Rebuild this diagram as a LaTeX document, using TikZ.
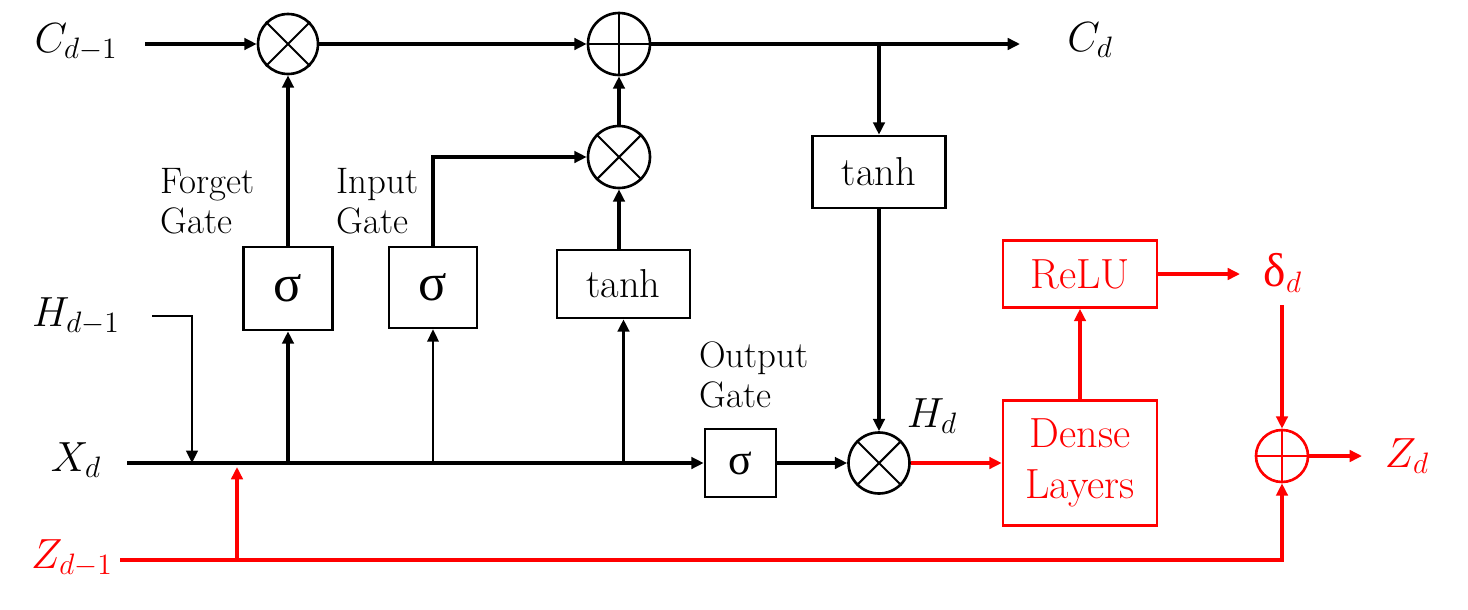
\RequirePackage{fix-cm}
\documentclass[tikz,border=0pt]{standalone}
\usepackage{fontspec}
\newfontfamily\grk{Liberation Serif}
\usetikzlibrary{arrows.meta}
\definecolor{rd}{RGB}{255,0,0}
\tikzset{
  arr/.style={line width=1.8pt,-{Triangle[length=7pt,width=6.5pt]}},
  rarr/.style={arr,draw=rd},
  ln/.style={line width=1.3pt},
  boxn/.style={draw,line width=1.5pt,inner sep=0pt,font=\fontsize{23}{27}\selectfont},
  rbox/.style={boxn,draw=rd,text=rd,font=\fontsize{24}{28}\selectfont},
  opc/.style={draw,circle,line width=1.5pt,inner sep=0pt},
  lbl/.style={font=\fontsize{24}{28}\selectfont,inner sep=0pt},
  gate/.style={font=\fontsize{21}{22.5}\selectfont,align=left,anchor=west,inner sep=0pt},
  sig/.style={font=\fontsize{30}{32}\selectfont\grk}
}
\begin{document}
\begin{tikzpicture}[x=0.02cm,y=-0.02cm]
\useasboundingbox (0,0) rectangle (1468,609);
% boxes
\node[boxn,minimum width=1.78cm,minimum height=1.66cm,sig] (s1) at (288,288.5) {σ};
\node[boxn,minimum width=1.76cm,minimum height=1.62cm,sig] (s2) at (433,287.5) {σ};
\node[boxn,minimum width=2.66cm,minimum height=1.36cm] (th2) at (623.5,284) {tanh};
\node[boxn,minimum width=2.66cm,minimum height=1.44cm] (th1) at (879,172) {tanh};
\node[boxn,minimum width=1.42cm,minimum height=1.36cm,font=\fontsize{25}{27}\selectfont\grk] (s3) at (740.5,463) {σ};
\node[rbox,minimum width=3.08cm,minimum height=1.34cm] (relu) at (1080,274) {ReLU};
\node[rbox,minimum width=3.08cm,minimum height=2.5cm,align=center] (dense) at (1080,463) {Dense\\[1pt]Layers};
% operators
\node[opc,minimum size=1.2cm] (m1) at (288,44) {};
\draw[line width=1.2pt] (m1.north west) -- (m1.south east) (m1.north east) -- (m1.south west);
\node[opc,minimum size=1.24cm] (a1) at (619,44) {};
\draw[line width=1.2pt] (a1.north) -- (a1.south) (a1.west) -- (a1.east);
\node[opc,minimum size=1.24cm] (m2) at (619,157) {};
\draw[line width=1.2pt] (m2.north west) -- (m2.south east) (m2.north east) -- (m2.south west);
\node[opc,minimum size=1.22cm] (m3) at (879,463) {};
\draw[line width=1.2pt] (m3.north west) -- (m3.south east) (m3.north east) -- (m3.south west);
\node[opc,draw=rd,minimum size=1.04cm] (a2) at (1282,456) {};
\draw[line width=1.2pt,draw=rd] (a2.north) -- (a2.south) (a2.west) -- (a2.east);
% labels
\node[lbl] (Cdm1) at (76,42) {$C_{d-1}$};
\node[lbl] (Cd) at (1090,40) {$C_d$};
\node[lbl] (Hdm1) at (76,316) {$H_{d-1}$};
\node[lbl] (Xd) at (76,460) {$X_d$};
\node[lbl,text=rd] (Zdm1) at (72,558) {$Z_{d-1}$};
\node[lbl] (Hd) at (932,416) {$H_d$};
\node[lbl,text=rd] (dl) at (1283,273) {{\fontsize{27}{29}\selectfont\grk δ}$_d$};
\node[lbl,text=rd] (Zd) at (1407,456) {$Z_d$};
\node[gate] (fg) at (160,201) {Forget\\Gate};
\node[gate] (ig) at (336,201) {Input\\Gate};
\node[gate] (og) at (699,375) {Output\\Gate};
% coordinates
\coordinate (cin) at (145,44);
\coordinate (cout) at (1020,44);
\coordinate (br) at (879,44);
\coordinate (hin) at (152,316);
\coordinate (hj) at (192,463);
\coordinate (xin) at (127,463);
\coordinate (dout) at (1240,274);
\coordinate (din) at (1282,305);
\coordinate (zout) at (1362,456);
\coordinate (zin) at (120,560);
\coordinate (zb) at (237,560);
\coordinate (zt) at (237,467);
% black connectors
\draw[arr] (cin) -- (m1.west);
\draw[arr] (m1.east) -- (a1.west);
\draw[arr] (a1.east) -- (cout);
\draw[arr] (br) -- (th1.north);
\draw[arr] (th1.south) -- (m3.north);
\draw[arr] (s1.north) -- (m1.south);
\draw[arr] (s2.north) |- (m2.west);
\draw[arr] (m2 |- th2.north) -- (m2.south);
\draw[arr] (m2.north) -- (a1.south);
\draw[ln,-{Triangle[length=7pt,width=6.5pt]}] (hin) -| (hj);
\draw[arr] (xin) -- (s3.west);
\draw[arr] (s1.south |- xin) -- (s1.south);
\draw[ln,-{Triangle[length=7pt,width=6.5pt]}] (s2.south |- xin) -- (s2.south);
\draw[arr] (th2.south |- xin) -- (th2.south);
\draw[arr] (s3.east) -- (m3.west);
% red connectors
\draw[rarr] (m3.east) -- (dense.west);
\draw[rarr] (dense.north) -- (relu.south);
\draw[rarr] (relu.east) -- (dout);
\draw[rarr] (din) -- (a2.north);
\draw[rarr] (a2.east) -- (zout);
\draw[rarr] (zin) -| (a2.south);
\draw[rarr] (zb) -- (zt);
\end{tikzpicture}
\end{document}
